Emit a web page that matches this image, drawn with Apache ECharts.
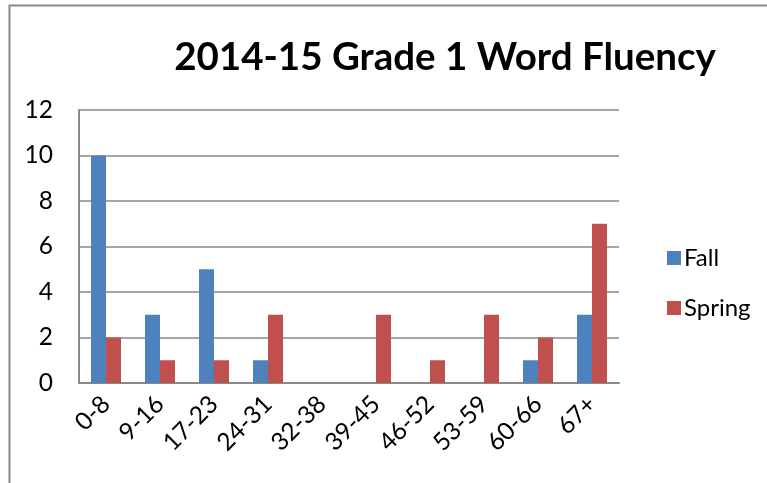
<!DOCTYPE html>
<html><head><meta charset="utf-8">
<script src="https://cdn.jsdelivr.net/npm/echarts@6/dist/echarts.min.js"></script>
<style>html,body{margin:0;padding:0;background:#fff}#c{width:767px;height:483px}</style>
</head><body><div id="c"></div>
<script>
const categories = ['0-8','9-16','17-23','24-31','32-38','39-45','46-52','53-59','60-66','67+'];
const fall = [10,3,5,1,0,0,0,0,1,3];
const spring = [2,1,1,3,0,3,1,3,2,7];
const yTicks = [0,2,4,6,8,10,12];
const FONT = 'Lato';
const chart = echarts.init(document.getElementById('c'));
chart.setOption({
  animation:false,
  textStyle:{fontFamily:FONT},
  graphic:[{type:'rect',shape:{x:9.5,y:5.5,width:800,height:600},style:{fill:'none',stroke:'#888',lineWidth:2}}],
  title:{text:'2014-15 Grade 1 Word Fluency',left:445,top:33,textAlign:'center',
    textStyle:{fontFamily:FONT,fontWeight:'bold',fontSize:38.5,color:'#000'}},
  legend:{orient:'vertical',left:662,top:241,itemWidth:14,itemHeight:14,itemGap:26,icon:'rect',
    textStyle:{fontFamily:FONT,fontSize:24,color:'#000',padding:[0,0,0,-2]},data:['Fall','Spring']},
  grid:{left:79,top:110,width:540,height:273,containLabel:false},
  xAxis:{type:'category',data:categories,
    axisLine:{lineStyle:{color:'#888',width:2}},axisTick:{show:false},
    axisLabel:{rotate:45,fontSize:24.5,color:'#000',fontFamily:FONT,margin:17,interval:0}},
  yAxis:{type:'value',min:0,max:12,interval:2,
    axisLine:{show:true,lineStyle:{color:'#888',width:2}},axisTick:{show:false},
    splitLine:{lineStyle:{color:'#888',width:1.5}},
    axisLabel:{fontSize:24.5,color:'#000',fontFamily:FONT,margin:26,
      formatter:v=>yTicks.includes(v)?String(v):''}},
  series:[
    {name:'Fall',type:'bar',data:fall,barWidth:15,barGap:'0%',itemStyle:{color:'#4F81BD'}},
    {name:'Spring',type:'bar',data:spring,barWidth:15,barGap:'0%',itemStyle:{color:'#C0504D'}}
  ]
}); 
chart.setOption({title:{left:440}});
</script></body></html>
